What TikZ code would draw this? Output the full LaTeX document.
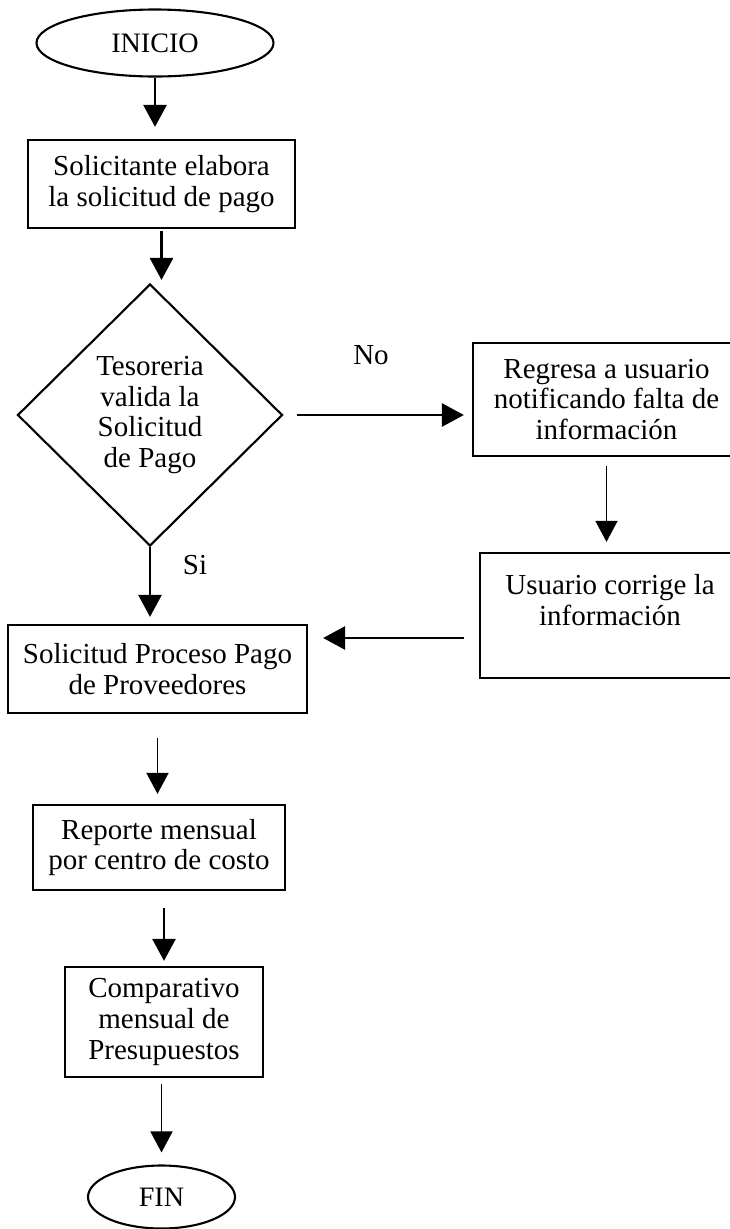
\documentclass[tikz,border=0pt]{standalone}
\usepackage{fontspec}
\setmainfont{Liberation Serif}
\usetikzlibrary{shapes.geometric, arrows.meta, calc}

\begin{document}
\begin{tikzpicture}[
        font=\fontsize{16.5}{17.5}\selectfont,
        box/.style={draw, line width=1.3pt, rectangle, align=center, inner sep=2pt},
        term/.style={draw, line width=1.2pt, ellipse, inner sep=0pt, font=\fontsize{16}{17}\selectfont},
        decision/.style={draw, line width=1.2pt, diamond, aspect=1, inner sep=0pt, align=center},
        arr/.style={line width=1.6pt, -{Triangle[length=0.44cm, width=0.46cm]}},
        arrthin/.style={line width=1pt, -{Triangle[length=0.42cm, width=0.44cm]}}
    ]
        % Fix the page size
        \clip (0,0) rectangle (14.6,-24.58);

        % Draw terminals
        \node[term, minimum width=4.74cm, minimum height=1.34cm] (inicio) at (3.1,-0.86) {INICIO};
        \node[term, minimum width=2.94cm, minimum height=1.26cm] (fin) at (3.23,-23.94) {FIN};

        % Draw process boxes
        \node[box, minimum width=5.34cm, minimum height=1.76cm] (solicita) at (3.23,-3.68) {Solicitante elabora\\la solicitud de pago};
        \node[box, minimum width=5.34cm, minimum height=2.26cm] (regresa) at (12.13,-7.99) {Regresa a usuario\\notificando falta de\\información};
        \node[box, minimum width=5.2cm, minimum height=2.5cm] (corrige) at (12.2,-12.31) {Usuario corrige la\\información\\~};
        \node[box, minimum width=5.98cm, minimum height=1.76cm] (proceso) at (3.15,-13.38) {Solicitud Proceso Pago\\de Proveedores};
        \node[box, minimum width=5.04cm, minimum height=1.7cm] (reporte) at (3.18,-16.95) {Reporte mensual\\por centro de costo};
        \node[box, minimum width=3.96cm, minimum height=2.2cm] (compara) at (3.28,-20.44) {Comparativo\\mensual de\\Presupuestos};

        % Draw decision
        \node[decision, minimum width=5.3cm, minimum height=5.24cm] (valida) at (3.0,-8.3) {Tesoreria\\valida la\\Solicitud\\de Pago};

        % Add connectors
        \draw[arr, shorten >=0.24cm] (inicio.south) -- (inicio.south |- solicita.north);
        \draw[arr, shorten <=0.04cm, shorten >=0.06cm] (solicita.south) -- (solicita.south |- valida.north);
        \draw[arr, shorten >=0.14cm] (valida.south) -- (valida.south |- proceso.north);
        \draw[arr, shorten <=0.26cm, shorten >=0.16cm] (valida.east) -- (valida.east -| regresa.west);
        \draw[arrthin, shorten <=0.18cm, shorten >=0.2cm] (regresa.south) -- (regresa.south |- corrige.north);
        \draw[arr, shorten <=0.3cm, shorten >=0.3cm] ([yshift=-0.45cm]corrige.west) -- ([yshift=-0.45cm]corrige.west -| proceso.east);
        \draw[arrthin, shorten <=0.48cm, shorten >=0.2cm] (proceso.south) -- (proceso.south |- reporte.north);
        \draw[arr, shorten <=0.34cm, shorten >=0.1cm] (compara.north |- reporte.south) -- (compara.north);
        \draw[arrthin, shorten <=0.12cm, shorten >=0.24cm] (fin.north |- compara.south) -- (fin.north);

        % Add branch labels
        \node (no) at (7.42,-7.1) {No};
        \node (si) at (3.9,-11.3) {Si};
    \end{tikzpicture}
\end{document}
